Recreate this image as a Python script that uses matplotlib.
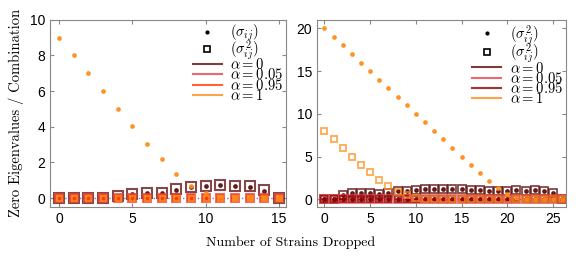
import matplotlib
matplotlib.use("Agg")
import matplotlib.pyplot as plt
from matplotlib.lines import Line2D

plt.rcParams["mathtext.fontset"] = "cm"
plt.rcParams["font.family"] = ["Liberation Sans", "DejaVu Sans"]

# ---------------- data ----------------
alpha_labels = [r"$\alpha = 0$", r"$\alpha = 0.05$", r"$\alpha = 0.95$", r"$\alpha = 1$"]

x_left = list(range(16))
left_a0_sq = [0, 0, 0, 0, 0.12, 0.22, 0.3, 0.3, 0.5, 0.62, 0.65, 0.72, 0.7, 0.65, 0.45, 0]
left_a0_dot = [0, 0, 0, 0, 0.05, 0.2, 0.28, 0.28, 0.45, 0.6, 0.65, 0.72, 0.68, 0.63, 0.42, 0]
left_zero = [0] * 16
left_a1_dot = [9, 8, 7, 6, 5, 4.02, 3.05, 2.17, 1.35, 0.7, 0.3, 0.05, 0, 0, 0, 0]
left_a1_sq = [0] * 16

x_right = list(range(27))
right_a0_sq = [0, 0, 0.5, 0.7, 0.7, 0.7, 0.65, 0.75, 0.95, 1.0, 1.1, 1.2, 1.2, 1.25,
               1.2, 1.2, 1.1, 1.1, 1.0, 1.0, 1.0, 1.05, 1.0, 1.05, 0.95, 0.75, 0]
right_a0_dot = right_a0_sq
right_zero = [0] * 27
right_a1_dot = [20, 19, 18, 17, 16, 15, 14, 13, 12, 11, 10, 9, 8, 7, 6, 5, 4, 3.05,
                2.15, 1.3, 0.65, 0.2, 0, 0, 0, 0, 0]
right_a1_sq = [8, 7, 6, 5, 4.05, 3.15, 2.3, 1.55, 0.9, 0.5, 0.2, 0.05, 0, 0, 0, 0, 0,
               0, 0, 0, 0, 0, 0, 0, 0, 0, 0]

left_colors = ["#5c0a0a", "#e0454a", "#ff3a0a", "#ff8c1a"]
right_colors = ["#5c0a0a", "#e0454a", "#8b0000", "#ff8c1a"]


def draw_panel(ax, x, dots, squares, colors, labels, xlim, ylim, xticks, yticks,
               sq_sizes, sq_ew):
    # 零线（灰色点线）
    ax.axhline(0, color="grey", linestyle=":", linewidth=1, zorder=0)
    # 方块从大到小叠放，α=1 在最上面
    for d, s, c, ms in zip(dots, squares, colors, sq_sizes):
        ax.plot(x, s, linestyle="none", marker="s", markersize=ms,
                markerfacecolor="none", markeredgecolor=c, markeredgewidth=sq_ew, alpha=0.75)
        ax.plot(x, d, linestyle="none", marker="o", markersize=2.4,
                markerfacecolor=c, markeredgecolor=c, alpha=0.9)
    ax.set_xlim(*xlim)
    ax.set_ylim(*ylim)
    ax.set_xticks(xticks)
    ax.set_yticks(yticks)
    ax.tick_params(direction="in", top=True, right=True, labelsize=10, length=3,
                   color="#888888")
    for sp in ax.spines.values():
        sp.set_color("#888888")

    handles = [
        Line2D([], [], linestyle="none", marker="o", markersize=2, color="black"),
        Line2D([], [], linestyle="none", marker="s", markersize=5, markerfacecolor="none",
               markeredgecolor="black", markeredgewidth=1.2),
    ] + [Line2D([], [], color=c, linewidth=1.5, alpha=0.8) for c in colors]
    ax.legend(handles, labels + alpha_labels, loc="upper right", frameon=False,
              fontsize=10.5, labelspacing=-0.33, handlelength=2.0, handletextpad=0.6,
              borderaxespad=0.1, borderpad=0.1)


fig = plt.figure(figsize=(5.81, 2.58), dpi=100)
ax1 = fig.add_axes([0.086, 0.198, 0.407, 0.725])
ax2 = fig.add_axes([0.546, 0.198, 0.428, 0.725])

draw_panel(ax1, x_left,
           [left_a0_dot, left_zero, left_zero, left_a1_dot],
           [left_a0_sq, left_zero, left_zero, left_a1_sq],
           left_colors, [r"$(\sigma_{ij})$", r"$(\sigma_{ij}^2)$"],
           (-0.62, 15.5), (-0.5, 10), [0, 5, 10, 15], [0, 2, 4, 6, 8, 10],
           [6.8, 6.0, 4.6, 3.6], 1.5)

draw_panel(ax2, x_right,
           [right_a0_dot, right_zero, right_zero, right_a1_dot],
           [right_a0_sq, right_zero, right_zero, right_a1_sq],
           right_colors, [r"$(\sigma_{ij}^2)$", r"$(\sigma_{ij}^2)$"],
           (-0.78, 26.4), (-0.9, 21), [0, 5, 10, 15, 20, 25], [0, 5, 10, 15, 20],
           [6.3, 5.6, 4.8, 4.2], 1.3)

ax1.set_ylabel("Zero Eigenvalues / Combination", family="cmr10", fontsize=10.5)
fig.text(0.5, 0.06, "Number of Strains Dropped", family="cmr10", fontsize=10,
         ha="center", va="center")

fig.savefig("out.png", dpi=100)
